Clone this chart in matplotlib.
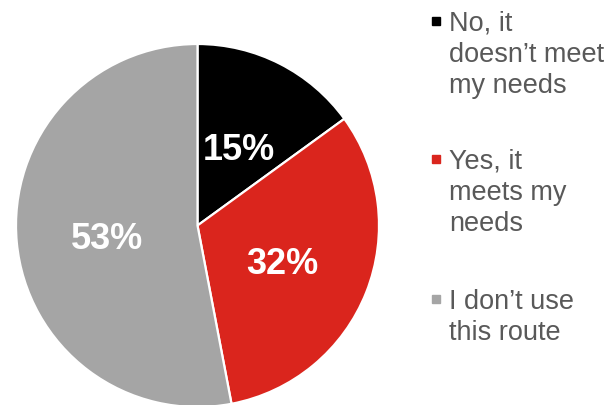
import matplotlib
matplotlib.use("Agg")
import matplotlib.pyplot as plt
from matplotlib.lines import Line2D

plt.rcParams['font.family'] = ['Liberation Sans', 'DejaVu Sans']

labels = ["No, it\ndoesn\u2019t meet\nmy needs",
          "Yes, it\nmeets my\nneeds",
          "I don\u2019t use\nthis route"]
shares = [15, 32, 53]
colors = ["#000000", "#DA251D", "#A5A5A5"]

fig = plt.figure(figsize=(6.16, 4.05), dpi=100)
ax = fig.add_axes([16 / 616, -2 / 405, 363 / 616, 363 / 405])

wedges, texts, autotexts = ax.pie(
    shares, colors=colors, startangle=90, counterclock=False,
    autopct=lambda p: "%d%%" % round(p), pctdistance=0.5, radius=1,
    wedgeprops=dict(edgecolor="white", linewidth=1.6),
    textprops=dict(color="white", fontsize=26, fontweight="bold"))
# nudge the percentage labels down a little
for t in autotexts:
    x, y = t.get_position()
    t.set_position((x, y - 0.03))
ax.set_xlim(-1, 1)
ax.set_ylim(-1, 1)
ax.set_aspect("equal")
ax.axis("off")

# legend drawn by hand so the marker sits on the first line of each label
legend_tops = [11, 149, 289]
for lab, col, top in zip(labels, colors, legend_tops):
    y = 1 - top / 405
    fig.text(449 / 616, y, lab, color="#595959", fontsize=19.5,
             va="top", ha="left", linespacing=1.25)
    fig.add_artist(Line2D([436 / 616], [1 - (top + 10) / 405], marker="s",
                          markersize=6, color=col, linestyle="none",
                          transform=fig.transFigure))

fig.savefig("out.png", dpi=100)
